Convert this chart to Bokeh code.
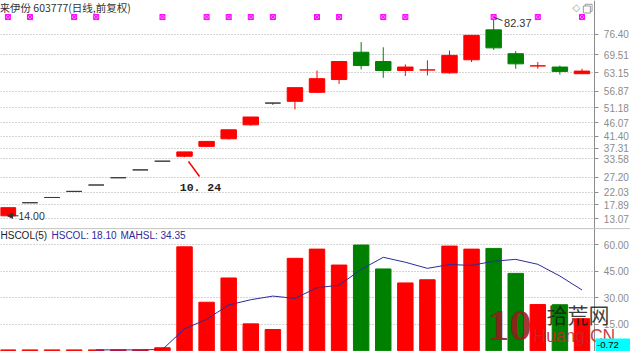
from bokeh.plotting import figure
from bokeh.layouts import column
from bokeh.models import (ColumnDataSource, Range1d, FixedTicker, NumeralTickFormatter,
                          Span, Label, Arrow, NormalHead, BoxAnnotation)
from bokeh.embed import file_html
from bokeh.resources import INLINE

# ---------------- data ----------------
days = list(range(27))
open_ = [14.00, 18.5, 20.3, 22.4, 24.6, 27.1, 29.8, 32.8, 34.5, 37.9, 40.5, 45.3, 52.8, 53.4,
         56.5, 60.9, 70.3, 67.1, 64.0, 64.2, 63.2, 67.7, 78.0, 69.8, 65.6, 65.2, 62.9]
high = [16.80, 18.5, 20.3, 22.4, 24.6, 27.1, 29.8, 32.8, 36.0, 39.6, 43.6, 48.0, 52.8, 58.1,
        64.0, 67.1, 73.8, 72.0, 66.1, 67.5, 70.9, 76.1, 82.37, 70.7, 66.9, 65.7, 64.6]
low = [14.00, 18.5, 20.3, 22.4, 24.6, 27.1, 29.8, 32.8, 34.2, 37.6, 40.3, 45.0, 52.2, 50.6,
       56.3, 59.4, 64.4, 61.5, 62.1, 62.3, 62.9, 66.9, 71.1, 64.6, 64.6, 62.6, 62.9]
close = [16.80, 18.5, 20.3, 22.4, 24.6, 27.1, 29.8, 32.8, 36.0, 39.6, 43.6, 48.0, 52.8, 58.1,
         61.2, 67.1, 65.7, 64.0, 65.2, 64.2, 69.2, 76.1, 71.8, 66.3, 65.6, 63.7, 63.8]
hscol = [0.5, 0.5, 0.5, 0.5, 0.5, 0.5, 0.5, 1.7, 58.7, 27.4, 41.1, 15.2, 12.0, 52.2,
         57.4, 48.4, 59.7, 46.2, 38.3, 40.1, 59.1, 57.4, 57.8, 43.7, 26.1, 26.0, 18.1]
ma_days = list(range(4, 27))
mahsl = [0.5, 0.5, 0.5, 0.74, 12.38, 17.76, 25.88, 28.82, 30.88, 29.58, 35.58, 37.04,
         45.94, 52.78, 50.0, 46.54, 48.68, 48.22, 50.54, 51.62, 48.82, 42.2, 34.35]
marker_days = [0, 1, 3, 4, 7, 9, 10, 11, 12, 14, 15, 17, 18, 22, 24, 26]
price_ticks = [13.07, 17.89, 22.03, 27.20, 33.58, 37.31, 41.40, 46.07, 51.18, 56.87, 63.15, 69.51, 76.40]
hs_ticks = [15, 30, 45, 60]

title_text = "来伊份 603777(日线,前复权)"
high_text = "82.37"
low_text = "14.00"
note_text = "10. 24"
cursor_text = "-0.72"

RED = "#ff0000"
GREEN = "#008000"
FLAT = "#3a3a3a"
GRAY = "#8c8c8c"

def candle_color(o, h, c):
    if c > o:
        return RED
    if c < o:
        return GREEN
    return RED if h > c else FLAT

colors = [candle_color(o, h, c) for o, h, c in zip(open_, high, close)]
bar_colors = [GREEN if c < o else RED for o, c in zip(open_, close)]

src = ColumnDataSource(dict(
    x=days, open=open_, high=high, low=low, close=close,
    top=[max(o, c) for o, c in zip(open_, close)],
    bottom=[min(o, c) for o, c in zip(open_, close)],
    color=colors, hs=hscol, bcolor=bar_colors))

X_END = 28.198       # canvas right edge
AXIS_X = 26.583      # where the price axis sits
x_range = Range1d(-0.335, X_END)


def style_axis(axis, ticks):
    axis.fixed_location = AXIS_X
    axis.ticker = FixedTicker(ticks=ticks, minor_ticks=[])
    axis.formatter = NumeralTickFormatter(format="0.00")
    axis.axis_line_color = GRAY
    axis.major_tick_line_color = GRAY
    axis.major_tick_out = 4
    axis.major_tick_in = 0
    axis.minor_tick_line_color = None
    axis.major_label_standoff = 5
    axis.major_label_text_color = GRAY
    axis.major_label_text_font = "Liberation Sans"
    axis.major_label_text_font_size = "10px"


def make_fig(height, y_range, ticks):
    f = figure(width=630, height=height, x_range=x_range, y_range=y_range,
               output_backend="svg", toolbar_location=None, x_axis_location=None,
               y_axis_location="right", min_border_left=0, min_border_top=0,
               min_border_bottom=0, min_border_right=0, background_fill_color="white",
               border_fill_color="white", outline_line_color=None)
    f.xgrid.visible = False
    f.ygrid.ticker = FixedTicker(ticks=ticks)
    f.ygrid.grid_line_color = "#a8a8a8"
    f.ygrid.grid_line_dash = "1 2"
    style_axis(f.yaxis[0], ticks)
    # keep the grid out of the axis strip
    f.add_layout(BoxAnnotation(left=AXIS_X, right=X_END, fill_color="white", fill_alpha=1,
                               line_color=None, level="underlay"))
    return f


# ---------------- price pane ----------------
p = make_fig(228, Range1d(9.63, 88.10), price_ticks)

p.segment(x0="x", y0="low", x1="x", y1="high", color="color", line_width=1, source=src)
p.vbar(x="x", width=0.7, top="top", bottom="bottom", fill_color="color",
       line_color="color", line_width=1, source=src)

p.scatter(x=marker_days, y=[82.4] * len(marker_days), marker="square_x", size=5,
          fill_color="#ff80ff", line_color="#ff00ff", line_width=1)

p.add_layout(Label(x=-1, y=221, x_units="screen", y_units="screen", text=title_text,
                   text_font="Noto Sans CJK SC", text_font_size="10.5px",
                   text_color="#333333", text_baseline="middle"))
p.segment(x0=[22.02], y0=[82.3], x1=[22.4], y1=[81.2], line_color="#333333", line_width=1)
p.add_layout(Label(x=22.47, y=80.3, text=high_text, text_font="Liberation Sans",
                   text_font_size="11px", text_color="#333333", text_baseline="middle"))
p.add_layout(Arrow(end=NormalHead(size=5, fill_color="#333333", line_color="#333333"),
                   x_start=0.48, y_start=14.0, x_end=-0.02, y_end=14.0,
                   line_color="#333333", line_width=1))
p.add_layout(Label(x=0.48, y=14.0, text=low_text, text_font="Liberation Sans",
                   text_font_size="10.5px", text_color="#333333", text_baseline="middle"))
p.segment(x0=[8.18], y0=[32.68], x1=[8.68], y1=[27.52], line_color=RED, line_width=1.5)
p.add_layout(Label(x=8.72, y=23.73, text=note_text, text_font="Liberation Mono",
                   text_font_size="11.5px", text_font_style="bold", text_color="#222222",
                   text_align="center", text_baseline="middle"))
# window icons
p.add_layout(Label(x=572, y=221, x_units="screen", y_units="screen", text="◇",
                   text_font="DejaVu Sans", text_font_size="10px",
                   text_color="#999999", text_baseline="middle"))
p.rect(x=[26.30, 26.22], y=[85.6, 85.0], width=7, height=7, width_units="screen",
       height_units="screen", fill_color="white", line_color="#999999", line_width=1)

# ---------------- HSCOL pane ----------------
q = make_fig(123, Range1d(-0.41, 69.04), hs_ticks)

q.add_layout(Span(location=69.0, dimension="width", line_color=GRAY, line_width=1))
q.vbar(x="x", width=0.7, top="hs", bottom=0, fill_color="bcolor", line_color="bcolor",
       line_width=1, source=src)
q.line(x=ma_days, y=mahsl, line_color="#2b2b9c", line_width=1)

q.add_layout(Label(x=0, y=116, x_units="screen", y_units="screen", text="HSCOL(5)",
                   text_font="Liberation Sans", text_font_size="10px",
                   text_color="#222222", text_baseline="middle"))
q.add_layout(Label(x=51, y=116, x_units="screen", y_units="screen", text="HSCOL: 18.10",
                   text_font="Liberation Sans", text_font_size="10px",
                   text_color="#2b2b9c", text_baseline="middle"))
q.add_layout(Label(x=120, y=116, x_units="screen", y_units="screen", text="MAHSL: 34.35",
                   text_font="Liberation Sans", text_font_size="10px",
                   text_color="#2b2b9c", text_baseline="middle"))
# watermark
q.add_layout(Label(x=487, y=12, x_units="screen", y_units="screen", text="10",
                   text_font="Liberation Sans Narrow", text_font_size="44px",
                   text_font_style="bold", text_color="#9b1b1b", text_alpha=0.9))
q.add_layout(Label(x=546, y=38, x_units="screen", y_units="screen", text="拾荒网",
                   text_font="Noto Sans CJK SC", text_font_size="21px",
                   text_color="#1a1a1a", text_alpha=0.85, text_baseline="middle"))
q.add_layout(Label(x=533, y=16, x_units="screen", y_units="screen", text="Huang.CN",
                   text_font="Liberation Sans", text_font_size="17.5px",
                   text_color="#c0282d", text_alpha=0.9, text_baseline="middle"))
# cursor value box
q.add_layout(BoxAnnotation(left=AXIS_X + 0.03, right=X_END, bottom=-0.41, top=6.9,
                           fill_color="#00ffff", fill_alpha=1, line_color=None))
q.add_layout(Label(x=AXIS_X + 0.1, y=3.2, text=cursor_text, text_font="Liberation Sans",
                   text_font_size="9.5px", text_color="#000000", text_baseline="middle"))

layout = column(p, q, spacing=0)
open("out.html", "w").write(file_html(layout, INLINE))
